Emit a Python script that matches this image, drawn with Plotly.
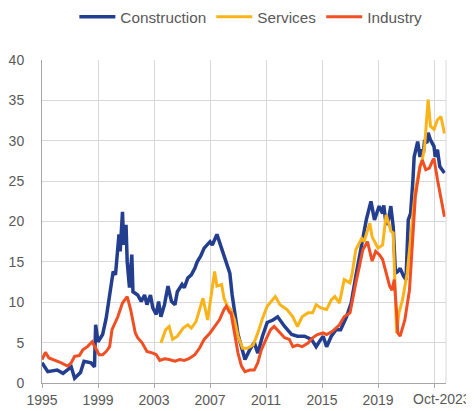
import plotly.graph_objects as go

# ---- data ----
construction_dates = ["1995-01","1995-06","1996-02","1996-07","1997-02","1997-05","1997-10","1998-01","1998-07","1998-10",
    "1998-11","1999-01","1999-05","1999-08","1999-11","2000-02","2000-04","2000-05","2000-07","2000-08","2000-10","2000-11",
    "2001-01","2001-02","2001-04","2001-06","2001-07","2001-11","2002-02","2002-05","2002-07","2002-10","2002-12","2003-03",
    "2003-05","2003-07","2003-10","2004-01","2004-04","2004-07","2004-09","2005-01","2005-03","2005-06","2005-09","2005-12",
    "2006-02","2006-05","2006-08","2007-01","2007-03","2007-07","2007-10","2008-01","2008-04","2008-06","2008-08","2008-11",
    "2009-01","2009-07","2009-11","2010-03","2010-06","2010-10","2011-02","2011-07","2011-11","2012-05","2012-11","2013-04",
    "2013-10","2014-04","2014-08","2014-12","2015-02","2015-05","2015-09","2016-01","2016-05","2016-10","2017-02","2017-06",
    "2017-11","2018-03","2018-07","2018-10","2019-02","2019-05","2019-06","2019-08","2019-10","2019-12","2020-02","2020-04",
    "2020-06","2020-08","2020-11","2021-01","2021-03","2021-05","2021-07","2021-08","2021-11","2022-01","2022-02","2022-04",
    "2022-05","2022-07","2022-08","2022-10","2023-01","2023-02","2023-04","2023-06","2023-08","2023-10"]
construction_values = [2.5,1.4,1.6,1.2,2.0,0.6,1.3,2.7,2.5,2.0,
    7.2,5.1,6.0,8.0,10.9,13.8,13.4,15.5,18.4,16.3,21.2,17.1,
    19.6,15.0,11.8,15.9,11.3,10.9,10.1,10.9,9.7,10.9,9.3,8.5,
    10.1,8.2,9.7,12.0,10.1,9.7,11.3,12.2,11.8,13.0,13.4,14.2,
    15.0,15.7,16.7,17.5,17.1,18.4,17.1,15.7,14.4,13.6,10.9,7.6,
    6.0,2.9,4.1,5.0,3.7,5.8,7.5,7.8,8.2,7.0,6.0,5.8,
    5.8,5.4,4.5,5.4,5.8,4.5,5.8,6.6,6.6,8.2,9.9,13.2,
    16.9,20.2,22.5,20.2,21.9,21.0,22.0,19.6,20.2,21.9,19.4,13.6,
    13.8,14.2,13.2,12.8,20.2,21.0,25.2,28.0,29.9,28.0,28.9,28.5,
    30.1,29.7,31.0,30.1,29.3,28.0,28.9,26.8,26.4,26.0]

services_dates = ["2003-07","2003-11","2004-02","2004-05","2004-09","2005-02","2005-06","2005-09","2006-01","2006-04",
    "2006-07","2006-11","2007-02","2007-05","2007-07","2007-11","2008-01","2008-04","2008-07","2008-10","2009-01","2009-05",
    "2009-09","2010-02","2010-06","2010-10","2011-02","2011-07","2011-09","2012-01","2012-03","2012-07","2012-12","2013-04",
    "2013-08","2014-01","2014-05","2014-08","2014-12","2015-05","2015-09","2015-12","2016-04","2016-08","2017-01","2017-03",
    "2017-06","2017-11","2018-01","2018-06","2018-08","2019-01","2019-05","2019-08","2019-11","2019-12","2020-02","2020-05",
    "2020-07","2020-10","2021-02","2021-05","2021-09","2022-01","2022-03","2022-05","2022-07","2022-08","2022-10","2023-01",
    "2023-04","2023-07","2023-10"]
services_values = [4.95,6.6,7.0,5.4,5.8,6.8,7.2,6.8,7.6,9.1,
    10.5,7.8,10.7,13.8,12.0,12.2,10.5,9.5,9.1,7.8,5.8,4.3,
    4.3,4.7,6.2,8.0,9.5,10.3,10.7,9.7,9.5,9.1,8.2,7.0,
    8.2,8.7,8.7,9.7,9.3,9.1,10.3,10.7,9.9,12.8,12.4,13.6,
    16.5,17.9,17.5,19.8,18.1,16.7,17.1,20.8,19.4,18.8,18.6,6.2,
    8.7,10.3,13.6,17.7,23.9,26.8,27.6,29.3,33.0,35.1,31.8,31.4,
    32.6,33.0,30.9]

industry_dates = ["1995-01","1995-04","1995-07","1995-11","1996-04","1996-08","1996-11","1997-02","1997-05","1997-09",
    "1997-12","1998-04","1998-08","1998-11","1999-02","1999-05","1999-08","1999-11","2000-01","2000-06","2000-10","2001-02",
    "2001-05","2001-09","2001-11","2002-03","2002-07","2002-12","2003-03","2003-06","2003-10","2004-02","2004-07","2004-11",
    "2005-03","2005-07","2005-12","2006-04","2006-08","2007-01","2007-05","2007-09","2008-01","2008-03","2008-06","2008-07",
    "2008-10","2009-01","2009-04","2009-07","2009-11","2010-03","2010-06","2010-09","2011-01","2011-05","2011-08","2012-01",
    "2012-05","2012-09","2012-12","2013-04","2013-08","2014-01","2014-05","2014-09","2015-02","2015-05","2015-10","2016-04",
    "2016-08","2017-01","2017-03","2017-06","2017-09","2017-12","2018-04","2018-08","2018-11","2019-02","2019-05","2019-08",
    "2019-11","2020-01","2020-03","2020-05","2020-06","2020-08","2020-12","2021-04","2021-07","2021-09","2022-01","2022-03",
    "2022-06","2022-09","2022-12","2023-01","2023-04","2023-07","2023-10"]
industry_values = [2.9,3.8,3.1,2.9,2.6,2.3,2.1,2.5,3.3,3.4,
    4.1,4.5,5.1,4.3,3.5,3.5,3.9,4.5,6.6,8.2,9.9,10.7,
    9.1,6.2,5.6,4.95,3.9,3.7,3.5,2.8,3.0,2.9,2.7,2.9,
    2.8,3.0,3.5,4.3,5.4,6.2,7.0,7.8,9.1,9.5,8.7,8.7,
    6.2,3.7,2.1,1.4,1.6,1.6,2.5,4.1,5.4,6.6,7.0,6.2,
    5.6,5.4,4.5,4.7,4.5,4.95,5.6,6.0,6.2,6.0,6.4,7.2,
    8.2,8.7,10.3,12.4,14.4,16.5,17.5,15.1,16.3,15.9,15.3,13.6,
    12.0,11.5,12.8,8.7,6.2,5.8,7.8,11.5,18.1,23.1,26.8,27.6,
    26.4,26.6,27.6,27.8,25.2,23.1,20.6]

tick_dates = ["1995-01-01","1999-01-01","2003-01-01","2007-01-01","2011-01-01","2015-01-01","2019-01-01","2023-01-01"]
tick_labels = ["1995","1999","2003","2007","2011","2015","2019",""]
last_label = "Oct-2023"
y_ticks = [0, 5, 10, 15, 20, 25, 30, 35, 40]

# ---- styles ----
FONT = "Liberation Sans, Arial, sans-serif"
GREY = "#595959"
GRID = "#d9d9d9"

fig = go.Figure()
fig.add_trace(go.Scatter(x=construction_dates, y=construction_values, name="Construction",
                         mode="lines", line=dict(color="#233E8F", width=3.5)))
fig.add_trace(go.Scatter(x=services_dates, y=services_values, name="Services",
                         mode="lines", line=dict(color="#FBB31A", width=3)))
fig.add_trace(go.Scatter(x=industry_dates, y=industry_values, name="Industry",
                         mode="lines", line=dict(color="#F04E23", width=3)))

# page body has an 8px margin, so the figure is 8px smaller and offsets are reduced
fig.update_layout(
    width=466, height=403,
    margin=dict(l=34, r=28, t=52, b=28, autoexpand=False),
    paper_bgcolor="white", plot_bgcolor="white",
    font=dict(family=FONT, color=GREY, size=14),
    showlegend=True,
    legend=dict(orientation="h", x=0.517, xanchor="center", y=0.978, yanchor="middle",
                yref="container", font=dict(size=15.3, color=GREY), itemwidth=36,
                tracegroupgap=0, bgcolor="rgba(0,0,0,0)"),
    xaxis=dict(type="date", range=["1995-01-01", "2023-11-10"],
               tickvals=tick_dates, ticktext=tick_labels,
               showgrid=True, gridcolor=GRID, gridwidth=1,
               showline=True, linecolor="#a6a6a6", linewidth=1,
               ticks="outside", ticklen=4, tickcolor="#a6a6a6",
               tickfont=dict(size=14, color=GREY), zeroline=False, automargin=False),
    yaxis=dict(range=[0, 40], tickvals=y_ticks,
               showgrid=True, gridcolor=GRID, gridwidth=1,
               showline=True, linecolor="#a6a6a6", linewidth=1,
               ticks="", tickfont=dict(size=14, color=GREY), zeroline=False,
               ticklabelstandoff=14, automargin=False),
    shapes=[dict(type="line", xref="paper", yref="paper", x0=1, x1=1, y0=0, y1=1,
                 line=dict(color=GRID, width=1))],
    annotations=[dict(text=last_label, xref="paper", yref="paper", x=1, y=0,
                      xanchor="right", yanchor="top", xshift=27, yshift=-6,
                      showarrow=False, font=dict(size=14, color=GREY))],
)

fig.write_html("out.html")
